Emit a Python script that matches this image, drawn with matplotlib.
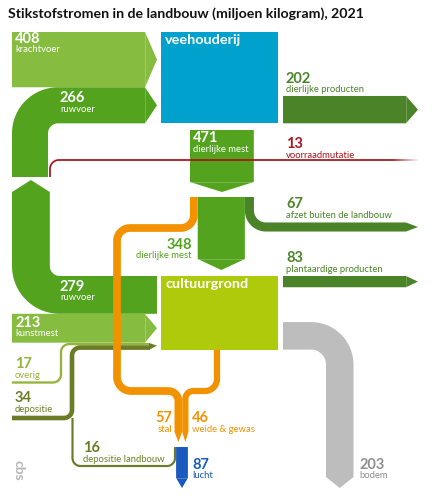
import numpy as np
import matplotlib
matplotlib.use("Agg")
import matplotlib.pyplot as plt
from matplotlib.patches import Polygon, Rectangle

plt.rcParams["font.family"] = ["Lato", "DejaVu Sans"]

# ── Data (miljoen kg stikstof, 2021) ───────────────────────────────────────
inflow_names = ["krachtvoer", "ruwvoer", "kunstmest", "overig", "depositie"]
inflow_values = [408, 266, 213, 17, 34]

livestock_out_names = ["dierlijke producten", "dierlijke mest", "voorraadmutatie"]
livestock_out_values = [202, 471, 13]

manure_split_names = ["stal", "dierlijke mest", "afzet buiten de landbouw"]
manure_split_values = [57, 348, 67]

soil_out_names = ["ruwvoer", "plantaardige producten", "bodem", "weide & gewas"]
soil_out_values = [279, 83, 203, 46]

air_names = ["lucht", "depositie landbouw"]
air_values = [87, 16]

krachtvoer, ruwvoer_in, kunstmest, overig, depositie = inflow_values
dier_prod, dier_mest, voorraad = livestock_out_values
stal, mest_cult, afzet = manure_split_values
ruwvoer_out, plant_prod, bodem, weide = soil_out_values
lucht, dep_landbouw = air_values

# ── Colours ────────────────────────────────────────────────────────────────
C_LIGHT = "#86bc3f"
C_MID = "#53a31f"
C_DARK = "#4b8428"
C_BLUE = "#00a1cd"
C_SOIL = "#afca0b"
C_ORANGE = "#f39200"
C_AIR = "#1a59bd"
C_GREY = "#bdbdbd"
C_RED = "#a8171b"
C_OLIVE_L = "#94b33a"
C_OLIVE_D = "#6b7c27"

S = 0.1355  # pixels per miljoen kg


def w(v):
    return v * S


def lw(v):
    return v * S * 72 / 100


def rounded(pts, radii):
    pts = [np.array(p, dtype=float) for p in pts]
    if np.isscalar(radii):
        radii = [radii] * (len(pts) - 2)
    out = [pts[0]]
    for i in range(1, len(pts) - 1):
        p0, p1, p2 = pts[i - 1], pts[i], pts[i + 1]
        d1 = (p1 - p0) / np.linalg.norm(p1 - p0)
        d2 = (p2 - p1) / np.linalg.norm(p2 - p1)
        r = radii[i - 1]
        a = p1 - d1 * r
        b = p1 + d2 * r
        c = a + d2 * r
        for t in np.linspace(0, 1, 30):
            out.append(c + np.cos(t * np.pi / 2) * (a - c) + np.sin(t * np.pi / 2) * (b - c))
    out.append(pts[-1])
    return np.array(out)


def band(ax, pts, value, color, radii, z=2, alpha=1.0):
    p = rounded(pts, radii)
    ax.plot(p[:, 0], p[:, 1], color=color, lw=lw(value), solid_capstyle="butt",
            solid_joinstyle="round", zorder=z, alpha=alpha)


def harrow(ax, x0, y0, value, x1, tip, color, z=2):
    h = w(value)
    ax.add_patch(Polygon([(x0, y0), (x1, y0), (x1 + tip, y0 + h / 2), (x1, y0 + h), (x0, y0 + h)],
                         closed=True, facecolor=color, edgecolor="none", zorder=z))
    ax.plot([x1, x1], [y0, y0 + h], color="white", lw=0.6, alpha=0.25, zorder=z)


def varrow(ax, x0, y0, value, y1, tip, color, z=2):
    ww = w(value)
    ax.add_patch(Polygon([(x0, y0), (x0 + ww, y0), (x0 + ww, y1), (x0 + ww / 2, y1 + tip), (x0, y1)],
                         closed=True, facecolor=color, edgecolor="none", zorder=z))
    ax.plot([x0, x0 + ww], [y1, y1], color="white", lw=0.6, alpha=0.25, zorder=z)


def label(ax, x, y, num, txt, color, ha="left", big=10.5, small=6.8):
    ax.text(x, y, str(num), color=color, fontsize=big, fontweight="bold", ha=ha, va="center", zorder=6)
    ax.text(x, y + 11, txt, color=color, fontsize=small, ha=ha, va="center", zorder=6)


fig = plt.figure(figsize=(4.32, 5.0), dpi=100)
ax = fig.add_axes([0, 0, 1, 1])
ax.set_xlim(0, 432)
ax.set_ylim(500, 0)
ax.axis("off")

ax.text(8, 14, "Stikstofstromen in de landbouw (miljoen kilogram), 2021",
        fontsize=10.2, fontweight="bold", color="#111111", va="center", ha="left")

# ── Veehouderij ────────────────────────────────────────────────────────────
top = 32
harrow(ax, 12, top, krachtvoer, 145, 12, C_LIGHT)
y_ruw = top + w(krachtvoer)
ax.add_patch(Rectangle((161, top), 117, w(krachtvoer) + w(ruwvoer_in), facecolor=C_BLUE,
                       edgecolor="none", zorder=2))
ax.text(165, 40, "veehouderij", color="white", fontsize=10.4, fontweight="bold", va="center")

# ruwvoer 266 (vertical up, bend, right into veehouderij)
xc = 12 + w(ruwvoer_in) / 2
yc = y_ruw + w(ruwvoer_in) / 2
band(ax, [(xc, 177), (xc, yc), (145, yc)], ruwvoer_in, C_MID, 10 + w(ruwvoer_in) / 2)
ax.add_patch(Polygon([(145, y_ruw), (157, yc), (145, y_ruw + w(ruwvoer_in))], closed=True,
                     facecolor=C_MID, edgecolor="none", zorder=2))
ax.plot([145, 145], [y_ruw, y_ruw + w(ruwvoer_in)], color="white", lw=0.6, alpha=0.25, zorder=2)

# dierlijke producten 202
vh_bottom = top + w(krachtvoer) + w(ruwvoer_in)
harrow(ax, 283, vh_bottom - w(dier_prod), dier_prod, 406, 12, C_DARK)

# dierlijke mest 471
varrow(ax, 190, 130, dier_mest, 182, 10, C_MID)

# voorraadmutatie 13 (red line, fading out)
band(ax, [(50, 177), (50, 160), (392, 160)], voorraad, C_RED, 9, z=4)
fade = np.linspace(392, 418, 14)
for i in range(len(fade) - 1):
    ax.plot(fade[i:i + 2], [160, 160], color=C_RED, lw=lw(voorraad), solid_capstyle="butt",
            alpha=1 - i / (len(fade) - 1), zorder=4)

# ── Split van dierlijke mest ───────────────────────────────────────────────
split_top = 197
x_stal = 190 + w(stal) / 2
x_mest = 190 + w(stal)
x_afzet = x_mest + w(mest_cult) + w(afzet) / 2
varrow(ax, x_mest, split_top, mest_cult, 259, 11, C_MID)
band(ax, [(x_afzet, split_top), (x_afzet, 227), (406, 227)], afzet, C_DARK, 12 + w(afzet) / 2)
ax.add_patch(Polygon([(406, 227 - w(afzet) / 2), (418, 227), (406, 227 + w(afzet) / 2)], closed=True,
                     facecolor=C_DARK, edgecolor="none", zorder=2))

# ── Cultuurgrond ───────────────────────────────────────────────────────────
cg_top = 276
cg_h = w(ruwvoer_out) + w(kunstmest) + w(overig) + w(depositie)
ax.add_patch(Rectangle((161, cg_top), 117, cg_h, facecolor=C_SOIL, edgecolor="none", zorder=2))
ax.text(165, 284, "cultuurgrond", color="white", fontsize=10.4, fontweight="bold", va="center")

# ruwvoer 279 (from cultuurgrond, left, up)
xc2 = 12 + w(ruwvoer_out) / 2
yc2 = cg_top + w(ruwvoer_out) / 2
band(ax, [(157, yc2), (xc2, yc2), (xc2, 192)], ruwvoer_out, C_MID, 10 + w(ruwvoer_out) / 2)
ax.add_patch(Polygon([(12, 192), (xc2, 180), (12 + w(ruwvoer_out), 192)], closed=True,
                     facecolor=C_MID, edgecolor="none", zorder=2))

# kunstmest 213
y_kunst = cg_top + w(ruwvoer_out)
harrow(ax, 12, y_kunst, kunstmest, 145, 12, C_LIGHT)

# overig 17 and depositie 34
y_ov = y_kunst + w(kunstmest) + w(overig) / 2 + 0.3
y_dep = y_kunst + w(kunstmest) + w(overig) + w(depositie) / 2 + 0.3
band(ax, [(12, 382.5), (61, 382.5), (61, y_ov), (150, y_ov)], overig, C_OLIVE_L, 8)
band(ax, [(12, 418), (72, 418), (72, y_dep), (150, y_dep)], depositie, C_OLIVE_D, 8)
ax.add_patch(Polygon([(149, y_ov - w(overig) / 2), (157, y_ov + 1.5), (149, y_dep + w(depositie) / 2)],
                     closed=True, facecolor=C_OLIVE_D, edgecolor="none", zorder=2))

# depositie landbouw 16 (to lucht)
band(ax, [(72.5, 418), (72.5, 466), (175, 466), (175, 447)], dep_landbouw, C_OLIVE_D, 8)

# plantaardige producten 83
harrow(ax, 283, cg_top, plant_prod, 406, 12, C_DARK)

# bodem 203
cg_bottom = cg_top + cg_h
xb = 326 + w(bodem) / 2
yb = cg_bottom - w(bodem) / 2
band(ax, [(283, yb), (xb, yb), (xb, 477)], bodem, C_GREY, 15 + w(bodem) / 2)
ax.add_patch(Polygon([(326, 477), (xb, 488), (326 + w(bodem), 477)], closed=True,
                     facecolor=C_GREY, edgecolor="none", zorder=2))

# ── Ammoniak naar lucht ────────────────────────────────────────────────────
x_left = 174.5 + w(stal) / 2
x_right = 174.5 + w(stal) + w(weide) / 2
band(ax, [(x_stal, split_top), (x_stal, 228), (117, 228), (117, 391), (x_left, 391), (x_left, 432)],
     stal, C_ORANGE, [13, 13, 14, 10], z=3)
band(ax, [(217, cg_bottom), (217, 391), (x_right, 391), (x_right, 432)],
     weide, C_ORANGE, [12, 8], z=3)
for xc_, v in [(x_left, stal), (x_right, weide)]:
    ax.add_patch(Polygon([(xc_ - w(v) / 2, 431.8), (xc_ + w(v) / 2, 431.8), (xc_, 442)], closed=True,
                         facecolor=C_ORANGE, edgecolor="none", zorder=3))
varrow(ax, 182 - w(lucht) / 2, 447, lucht, 478, 10, C_AIR)

# ── Labels ─────────────────────────────────────────────────────────────────
label(ax, 15, 39, krachtvoer, "krachtvoer", "white")
label(ax, 60, 98, ruwvoer_in, "ruwvoer", "white")
label(ax, 193, 138, dier_mest, "dierlijke mest", "white")
label(ax, 60, 287, ruwvoer_out, "ruwvoer", "white")
label(ax, 15, 323, kunstmest, "kunstmest", "white")
label(ax, 286, 79, dier_prod, "dierlijke producten", C_DARK)
label(ax, 286, 144, voorraad, "voorraadmutatie", C_RED)
label(ax, 286, 204, afzet, "afzet buiten de landbouw", C_DARK)
label(ax, 286, 258, plant_prod, "plantaardige producten", C_DARK)
label(ax, 192, 245, mest_cult, "dierlijke mest", C_MID, ha="right")
label(ax, 15, 364, overig, "overig", C_OLIVE_L)
label(ax, 15, 398, depositie, "depositie", C_OLIVE_D)
label(ax, 83, 448, dep_landbouw, "depositie landbouw", C_OLIVE_D)
label(ax, 172, 418, stal, "stal", C_ORANGE, ha="right")
label(ax, 192, 418, weide, "weide & gewas", C_ORANGE)
label(ax, 192, 465, lucht, "lucht", C_AIR)
label(ax, 359, 465, bodem, "bodem", "#8f8f8f")

# cbs logo
ax.text(18, 470, "cbs", rotation=-90, color="#b5b5b5", fontsize=10, fontweight="bold",
        ha="center", va="center")

fig.savefig("out.png", dpi=100)
